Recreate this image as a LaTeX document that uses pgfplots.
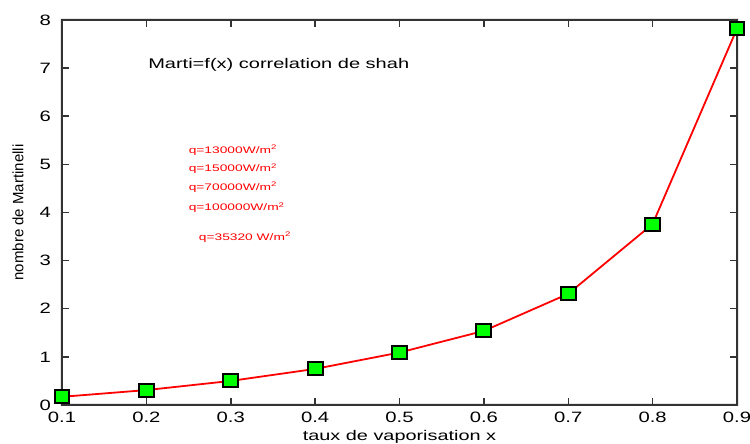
\documentclass[border=0pt]{standalone}
\usepackage{pgfplots}
\pgfplotsset{compat=1.18}
\usepackage{fontspec}
\setmainfont{Liberation Sans}
% horizontally widened text
\newcommand{\wide}[2]{\scalebox{#1}[1]{#2}}
\newcommand{\tl}[1]{\wide{1.35}{#1}}
\begin{document}
\begin{tikzpicture}
\begin{axis}[
  scale only axis,
  width=675pt, height=385pt,
  xmin=0.1, xmax=0.9, ymin=0, ymax=8,
  xtick={0.1,0.2,0.3,0.4,0.5,0.6,0.7,0.8,0.9},
  ytick={0,1,2,3,4,5,6,7,8},
  xticklabels={\tl{0.1},\tl{0.2},\tl{0.3},\tl{0.4},\tl{0.5},\tl{0.6},\tl{0.7},\tl{0.8},\tl{0.9}},
  yticklabels={\tl{0},\tl{1},\tl{2},\tl{3},\tl{4},\tl{5},\tl{6},\tl{7},\tl{8}},
  xticklabel style={font=\fontsize{15}{16}\selectfont, inner sep=0pt,
    anchor=north, yshift=-7pt},
  yticklabel style={font=\fontsize{15}{16}\selectfont, inner sep=0pt,
    anchor=east, xshift=-11pt},
  tick align=inside,
  xtick pos=both, ytick pos=both,
  major tick length=7pt,
  axis line style={draw=black!80, line width=2pt},
  major tick style={draw=black!80, line width=1.5pt},
  xlabel={\wide{1.42}{taux de vaporisation x}},
  ylabel={nombre de Martinelli},
  every axis x label/.style={at={([yshift=-32pt]axis description cs:0.5,0)},
    anchor=center, font=\fontsize{14}{15}\selectfont, inner sep=0pt},
  every axis y label/.style={at={([xshift=-44pt]axis description cs:0,0.5)},
    anchor=center, rotate=90, font=\fontsize{15}{16}\selectfont, inner sep=0pt},
  clip=false,
]
% plot frame as a filled ring
\fill[black!80, even odd rule]
  ([xshift=-1pt,yshift=-1pt]rel axis cs:0,0) rectangle ([xshift=1pt,yshift=1pt]rel axis cs:1,1)
  ([xshift=1pt,yshift=1pt]rel axis cs:0,0) rectangle ([xshift=-1pt,yshift=-1pt]rel axis cs:1,1);
% inward ticks on all four sides, as filled bars
\pgfplotsinvokeforeach{0.1,0.2,0.3,0.4,0.5,0.6,0.7,0.8,0.9}{
  \fill[black!80] ([xshift=-0.75pt]axis cs:#1,0) rectangle ([xshift=0.75pt,yshift=7pt]axis cs:#1,0);
  \fill[black!80] ([xshift=-0.75pt]axis cs:#1,8) rectangle ([xshift=0.75pt,yshift=-7pt]axis cs:#1,8);
}
\pgfplotsinvokeforeach{0,1,2,3,4,5,6,7,8}{
  \fill[black!80] ([yshift=-0.75pt]axis cs:0.1,#1) rectangle ([yshift=0.75pt,xshift=7pt]axis cs:0.1,#1);
  \fill[black!80] ([yshift=-0.75pt]axis cs:0.9,#1) rectangle ([yshift=0.75pt,xshift=-7pt]axis cs:0.9,#1);
}
\addplot[draw=red, line width=1.8pt, mark=square*,
  mark options={fill=green, draw=black, line width=2pt, xscale=1.15},
  mark size=6.5pt]
  coordinates {
    (0.1,0.17) (0.2,0.31) (0.3,0.50) (0.4,0.75) (0.5,1.09)
    (0.6,1.54) (0.7,2.31) (0.8,3.76) (0.9,7.82)
  };
\node[anchor=west, inner sep=0pt, font=\fontsize{14}{15}\selectfont]
  at (axis cs:0.202,7.07) {\wide{1.43}{Marti=f(x) correlation de shah}};
\begin{scope}[every node/.style={anchor=west, inner sep=0pt, text=red,
    font=\fontsize{9.5}{10}\selectfont}]
  \node at (axis cs:0.250,5.30) {\wide{1.45}{q=13000W/m\textsuperscript{2}}};
  \node at (axis cs:0.250,4.91) {\wide{1.45}{q=15000W/m\textsuperscript{2}}};
  \node at (axis cs:0.250,4.53) {\wide{1.45}{q=70000W/m\textsuperscript{2}}};
  \node at (axis cs:0.250,4.10) {\wide{1.45}{q=100000W/m\textsuperscript{2}}};
  \node at (axis cs:0.262,3.49) {\wide{1.45}{q=35320 W/m\textsuperscript{2}}};
\end{scope}
\coordinate (frameBL) at ([xshift=-62pt,yshift=-39pt]rel axis cs:0,0);
\coordinate (frameTR) at ([xshift=13pt,yshift=20pt]rel axis cs:1,1);
\end{axis}
% page frame around the plot
\pgfresetboundingbox
\path (frameBL) rectangle (frameTR);
\end{tikzpicture}
\end{document}
